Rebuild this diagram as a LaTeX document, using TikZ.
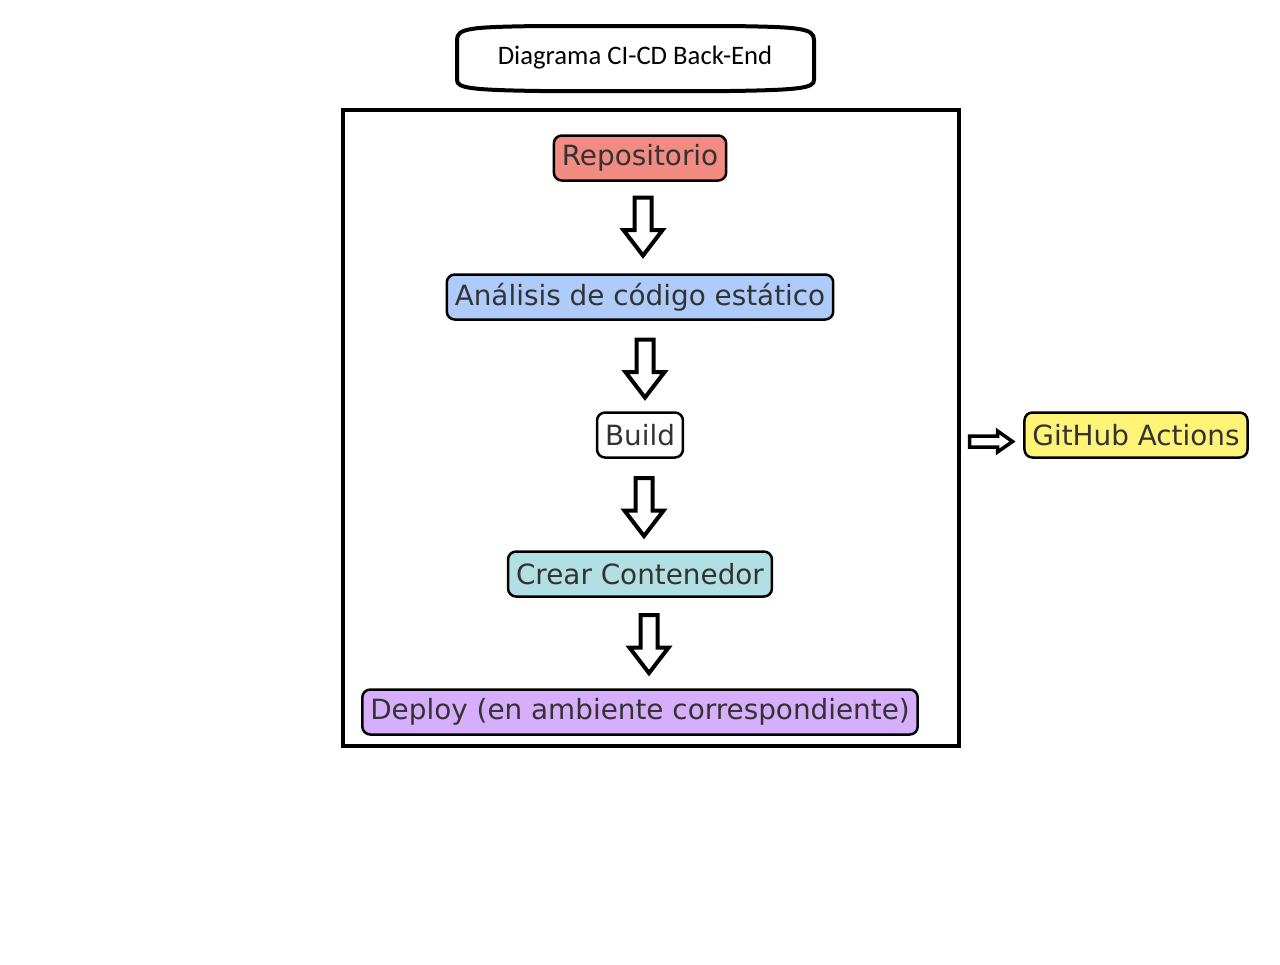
\documentclass[tikz,border=0pt]{standalone}
\usepackage{fontspec}
\setmainfont{DejaVu Sans}
\newfontfamily\titlefont{Carlito}
\usetikzlibrary{shapes.arrows, positioning, calc}
\definecolor{repored}{HTML}{F28B82}
\definecolor{lintblue}{HTML}{AECBFA}
\definecolor{boxteal}{HTML}{B2DFE3}
\definecolor{deploypurple}{HTML}{D7AEFB}
\definecolor{ghyellow}{HTML}{FFF475}
\definecolor{textgray}{HTML}{333333}
\begin{document}
\begin{tikzpicture}[x=0.02cm, y=-0.02cm,
      stage/.style={draw, line width=0.05cm, rounded corners=0.16cm, inner xsep=0.16cm, inner ysep=0pt,
        minimum height=0.9cm, text=textgray, font=\fontsize{15.85}{18}\selectfont},
      blk/.style={single arrow, draw, line width=0.08cm, fill=white, inner sep=0.13cm,
        minimum height=1.16cm, single arrow head extend=0.22cm, single arrow tip angle=75, shape border rotate=270}]
    \useasboundingbox (0,0) rectangle (1280,964);
    % title
    \node[font=\titlefont\fontsize{15.2}{18}\selectfont] (title) at (635,58) {Diagrama CI-CD Back-End};
    \draw[line width=0.08cm] (457,40) .. controls (457,28) and (470,27) .. (540,26) -- (730,26)
      .. controls (800,27) and (814,28) .. (814,40) -- (814,80) .. controls (814,88) and (800,90) .. (730,91)
      -- (540,91) .. controls (470,90) and (457,88) .. (457,80) -- cycle;
    % pipeline
    \node[draw, line width=0.08cm, minimum width=12.32cm, minimum height=12.72cm] (frame) at (651,428) {};
    \node[stage, fill=repored] (repo) at (640,158) {Repositorio};
    \node[stage, fill=lintblue] (lint) at (640,297) {Análisis de código estático};
    \node[stage, fill=white] (build) at (640,435) {Build};
    \node[stage, fill=boxteal] (cont) at (640,574) {Crear Contenedor};
    \node[stage, fill=deploypurple] (deploy) at (640,712) {Deploy (en ambiente correspondiente)};
    \node[blk] (a1) at ($(repo.south)!0.5!(lint.north)+(3,-6.5)$) {};
    \node[blk] (a2) at ($(lint.south)!0.5!(build.north)+(5,-3)$) {};
    \node[blk] (a3) at ($(build.south)!0.5!(cont.north)+(4,-3)$) {};
    \node[blk] (a4) at ($(cont.south)!0.5!(deploy.north)+(9,-4.5)$) {};
    % tool
    \node[stage, fill=ghyellow] (gh) at (1136,435) {GitHub Actions};
    \node[blk, shape border rotate=0, line width=0.07cm, inner sep=0.075cm, minimum height=0.86cm,
      single arrow head extend=0.1cm, single arrow tip angle=70] (a5) at ($(frame.east)!0.5!(gh.west)+(-5,10)$) {};
  \end{tikzpicture}
\end{document}
